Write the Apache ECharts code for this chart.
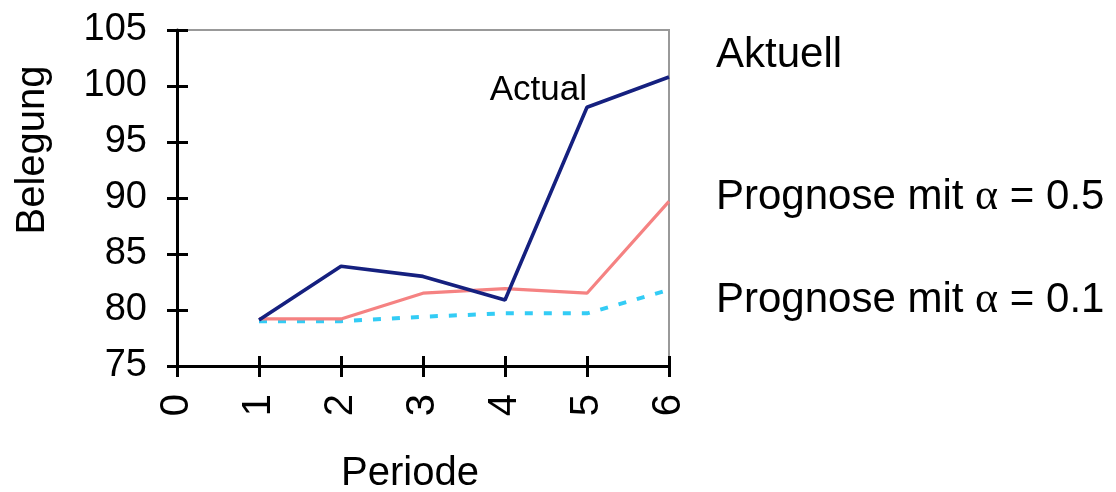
<!DOCTYPE html>
<html>
<head>
<meta charset="utf-8">
<script src="https://cdn.jsdelivr.net/npm/echarts@6/dist/echarts.min.js"></script>
<style>html,body{margin:0;padding:0;background:#fff}#c{width:1116px;height:492px}</style>
</head>
<body>
<div id="c"></div>
<script>
var periods = [1, 2, 3, 4, 5, 6];
var actual = [79.1, 83.9, 83.0, 80.9, 98.1, 100.8];
var alpha05 = [79.2, 79.2, 81.5, 81.9, 81.5, 89.7];
var alpha01 = [79.0, 79.0, 79.4, 79.7, 79.7, 81.8];
var xTicks = [0, 1, 2, 3, 4, 5, 6];
var yTicks = [75, 80, 85, 90, 95, 100, 105];
var legendTexts = ['Aktuell', 'Prognose mit {a|α} = 0.5', 'Prognose mit {a|α} = 0.1'];

var FONT = 'Liberation Sans, Arial, sans-serif';
function pairs(vals) { return periods.map(function (p, i) { return [p, vals[i]]; }); }

var actualData = pairs(actual).map(function (d, i) {
  if (i === 4) {
    return { value: d, label: { show: true, position: 'left', distance: 0, offset: [0, -17],
      formatter: 'Actual', color: '#000', fontSize: 35, fontFamily: FONT } };
  }
  return d;
});

var baseX = { type: 'value', min: xTicks[0], max: xTicks[xTicks.length - 1], interval: 1, splitLine: { show: false } };
var baseY = { type: 'value', min: yTicks[0], max: yTicks[yTicks.length - 1], interval: 5, splitLine: { show: false } };

var chart = echarts.init(document.getElementById('c'));
chart.setOption({
  animation: false,
  backgroundColor: '#fff',
  grid: { left: 177, right: 447, top: 30, bottom: 126, show: true, borderColor: '#999', borderWidth: 2, backgroundColor: 'transparent' },
  xAxis: [
    Object.assign({}, baseX, {
      position: 'bottom',
      axisLine: { show: true, onZero: false, lineStyle: { color: '#000', width: 3 } },
      axisTick: { show: true, inside: false, length: 11, lineStyle: { color: '#000', width: 3 } },
      axisLabel: { rotate: 90, margin: 28, fontSize: 40, color: '#000', fontFamily: FONT }
    }),
    Object.assign({}, baseX, {
      position: 'bottom',
      axisLine: { show: false },
      axisTick: { show: true, inside: true, length: 10, lineStyle: { color: '#000', width: 3 } },
      axisLabel: { show: false }
    })
  ],
  yAxis: [
    Object.assign({}, baseY, {
      position: 'left',
      axisLine: { show: true, onZero: false, lineStyle: { color: '#000', width: 3 } },
      axisTick: { show: true, inside: false, length: 10, lineStyle: { color: '#000', width: 3 } },
      axisLabel: { margin: 30, fontSize: 38, color: '#000', fontFamily: FONT }
    }),
    Object.assign({}, baseY, {
      position: 'left',
      axisLine: { show: false },
      axisTick: { show: true, inside: true, length: 11, lineStyle: { color: '#000', width: 3 } },
      axisLabel: { show: false }
    })
  ],
  series: [
    { name: 'Prognose mit α = 0.1', type: 'line', data: pairs(alpha01), symbol: 'none',
      lineStyle: { color: '#33ccf5', width: 4, type: [8, 11] } },
    { name: 'Prognose mit α = 0.5', type: 'line', data: pairs(alpha05), symbol: 'none',
      lineStyle: { color: '#f58282', width: 3.2 } },
    { name: 'Aktuell', type: 'line', data: actualData, symbol: 'circle', symbolSize: 0, showSymbol: true,
      itemStyle: { color: '#15207f' },
      lineStyle: { color: '#15207f', width: 3.6 } }
  ],
  graphic: [
    { type: 'text', x: 33, y: 150, rotation: Math.PI / 2,
      style: { text: 'Belegung', fontSize: 40, fontFamily: FONT, fill: '#000', align: 'center', verticalAlign: 'middle' } },
    { type: 'text', x: 410, y: 474,
      style: { text: 'Periode', fontSize: 40, fontFamily: FONT, fill: '#000', align: 'center', verticalAlign: 'middle' } },
    { type: 'text', x: 716, y: 55,
      style: { text: legendTexts[0], fontSize: 42, fontFamily: FONT, fill: '#000', align: 'left', verticalAlign: 'middle' } },
    { type: 'text', x: 716, y: 197,
      style: { text: legendTexts[1], fontSize: 42, fontFamily: FONT, fill: '#000', align: 'left', verticalAlign: 'middle',
        rich: { a: { fontFamily: 'Liberation Serif, serif', fontSize: 44, fill: '#000' } } } },
    { type: 'text', x: 716, y: 300,
      style: { text: legendTexts[2], fontSize: 42, fontFamily: FONT, fill: '#000', align: 'left', verticalAlign: 'middle',
        rich: { a: { fontFamily: 'Liberation Serif, serif', fontSize: 44, fill: '#000' } } } }
  ]
});
</script>
</body>
</html>
